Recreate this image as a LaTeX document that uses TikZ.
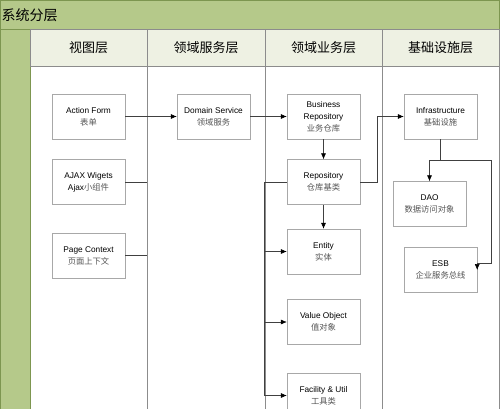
\documentclass[tikz,border=0pt]{standalone}
\usepackage{fontspec}
\setmainfont{Liberation Sans}
\newfontfamily\cjk{Noto Sans CJK SC}
\usetikzlibrary{arrows.meta}
\definecolor{poolgreen}{HTML}{B5C98A}
\definecolor{pooledge}{HTML}{7D9650}
\definecolor{headfill}{HTML}{EEF1E3}
\definecolor{laneline}{HTML}{8C8C8C}
\definecolor{boxline}{HTML}{A8A8A8}
\definecolor{subtext}{HTML}{555555}
\newcommand{\zh}[1]{{\cjk\color{subtext}#1}}
\tikzset{
	obj/.style={draw=boxline, fill=white, minimum width=73pt, minimum height=45pt, align=center, inner sep=1pt, font=\fontsize{8.3}{12}\selectfont},
	lanehead/.style={draw=laneline, fill=headfill, minimum width=117.5pt, minimum height=37pt, inner sep=0pt, font=\cjk\fontsize{13}{15}\selectfont},
	link/.style={draw=black!75, line width=0.5pt, -{Latex[length=6pt,width=5pt,black]}},
	wire/.style={draw=black!75, line width=0.5pt}
}
\begin{document}
\begin{tikzpicture}[x=1pt,y=-1pt]
\clip (0,0) rectangle (500,409);
% pool and lanes
\draw[pooledge, fill=poolgreen] (0.5,0.5) rectangle (499.5,430);
\draw[pooledge] (0,29) -- (500,29);
\fill[white] (30,29) rectangle (499,430);
\draw[pooledge] (30,29) -- (30,430);
\node[anchor=west, inner sep=1.5pt, font=\cjk\fontsize{14}{16}\selectfont] (title) at (0,15) {系统分层};
\node[lanehead] (h1) at (88.5,47.5) {视图层};
\node[lanehead] (h2) at (206,47.5) {领域服务层};
\node[lanehead] (h3) at (323.5,47.5) {领域业务层};
\node[lanehead] (h4) at (440.5,47.5) {基础设施层};
\foreach \x in {147,265,382,499}
	\draw[laneline] (\x,66) -- (\x,430);
% objects
\node[obj] (af) at (88.5,116.5) {Action Form\\\zh{表单}};
\node[obj] (aj) at (88.5,182) {AJAX Wigets\\Ajax\zh{小组件}};
\node[obj] (pc) at (88.5,255.5) {Page Context\\\zh{页面上下文}};
\node[obj] (ds) at (213.5,116.5) {Domain Service\\\zh{领域服务}};
\node[obj] (br) at (323.5,116.5) {Business\\Repository\\\zh{业务仓库}};
\node[obj] (re) at (323.5,182) {Repository\\\zh{仓库基类}};
\node[obj] (en) at (323.5,251.5) {Entity\\\zh{实体}};
\node[obj] (vo) at (323.5,322) {Value Object\\\zh{值对象}};
\node[obj] (fu) at (323.5,395.5) {Facility \& Util\\\zh{工具类}};
\node[obj] (in) at (440.5,116.5) {Infrastructure\\\zh{基础设施}};
\node[obj] (dao) at (429.5,204) {DAO\\\zh{数据访问对象}};
\node[obj] (esb) at (440.5,270) {ESB\\\zh{企业服务总线}};
% connectors
\draw[link] (af.east) -- (ds.west);
\draw[wire] (aj.east) -- (aj.east -| h1.east);
\draw[wire] (pc.east) -- (pc.east -| h1.east);
\draw[link] (ds.east) -- (br.west);
\draw[link] (br.south) -- (re.north);
\draw[link] (re.south) -- (en.north);
\foreach \n in {en,vo,fu}
	\draw[link] (re.west) -- (re.west -| h3.west) |- (\n.west);
\draw[link] (re.east) -- ++(17,0) |- (in.west);
\path (in.south) ++(0,21.5) coordinate (split);
\draw[wire] (in.south) -- (split);
\draw[link] (split) -| (dao.north);
\draw[link] (split) -| (491,263) -| (esb.east);
\end{tikzpicture}
\end{document}
